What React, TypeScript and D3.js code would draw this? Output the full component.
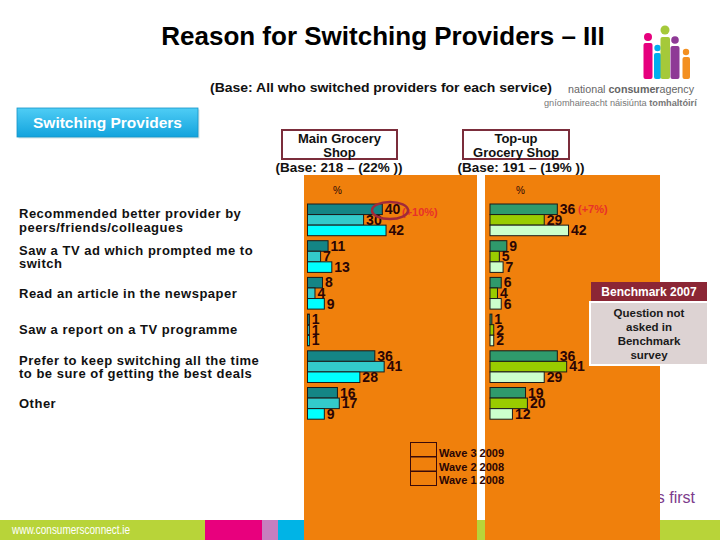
import React from "react";
import * as d3 from "d3";

const categories: string[][] = [
  ["Recommended better provider by", "peers/friends/colleagues"],
  ["Saw a TV ad which prompted me to", "switch"],
  ["Read an article in the newspaper"],
  ["Saw a report on a TV programme"],
  ["Prefer to keep switching all the time", "to be sure of getting the best deals"],
  ["Other"],
];
const waves = ["Wave 3 2009", "Wave 2 2008", "Wave 1 2008"];
const mainGrocery = [
  [40, 30, 42],
  [11, 7, 13],
  [8, 4, 9],
  [1, 1, 1],
  [36, 41, 28],
  [16, 17, 9],
];
const topUpGrocery = [
  [36, 29, 42],
  [9, 5, 7],
  [6, 4, 6],
  [1, 2, 2],
  [36, 41, 29],
  [19, 20, 12],
];
const mainColors = ["#148585", "#33caca", "#00ffff"];
const topUpColors = ["#2f9a6c", "#99cc00", "#ccffcc"];

const ORANGE = "#f0800c";
const FONT = "'Liberation Sans', Arial, sans-serif";
const LABEL = "#2a0505";

const catKeys = categories.map((c) => c.join(" "));
const yGroup = d3.scaleBand<string>().domain(catKeys).range([204, 419.2]).paddingInner(0.136);
const ySeries = d3.scaleBand<string>().domain(waves).range([0, yGroup.bandwidth()]);
const x = d3.scaleLinear().domain([0, 50]).range([0, 93.5]);

function Panel({ x0, data, colors }: { x0: number; data: number[][]; colors: string[] }) {
  return (
    <g>
      {data.map((vals, i) => (
        <g key={i} transform={`translate(0,${yGroup(catKeys[i])})`}>
          {vals.map((v, j) => (
            <rect
              key={j}
              x={x0}
              y={ySeries(waves[j])}
              width={x(v)}
              height={ySeries.bandwidth()}
              fill={colors[j]}
              stroke="#1a1a1a"
              strokeWidth={1}
            />
          ))}
          {vals.map((v, j) => (
            <text
              key={"t" + j}
              x={x0 + x(v) + 2.5}
              y={(ySeries(waves[j]) as number) + ySeries.bandwidth() - 0.5}
              fontSize={14}
              fontWeight="bold"
              fill={LABEL}
              fontFamily={FONT}
            >
              {v}
            </text>
          ))}
        </g>
      ))}
    </g>
  );
}

export default function App() {
  const logo = [
    { c: "#e6007e", hx: 648, hy: 37, r: 4, bx: 643.5, by: 43, w: 9, h: 36 },
    { c: "#00aeef", hx: 657.5, hy: 48, r: 3.2, bx: 654, by: 53, w: 7, h: 26 },
    { c: "#a5c93a", hx: 665, hy: 30, r: 4.5, bx: 660.5, by: 37, w: 9.5, h: 42 },
    { c: "#8e3a96", hx: 675, hy: 40, r: 3.8, bx: 670.5, by: 46, w: 9, h: 33 },
    { c: "#f39021", hx: 686, hy: 52, r: 3.2, bx: 682.5, by: 57, w: 7.5, h: 22 },
  ];
  return (
    <svg
      width={720}
      height={540}
      style={{ position: "absolute", left: 0, top: 0, background: "#fff" }}
      fontFamily={FONT}
    >
      <defs>
        <linearGradient id="btn" x1="0" y1="0" x2="0" y2="1">
          <stop offset="0" stopColor="#4fcdf5" />
          <stop offset="1" stopColor="#12a3dd" />
        </linearGradient>
      </defs>
      <rect width={720} height={540} fill="#fff" />

      {/* Title */}
      <text x={383} y={45} textAnchor="middle" fontSize={26} fontWeight="bold" fill="#000">
        Reason for Switching Providers – III
      </text>
      <text x={210} y={92} fontSize={13} fontWeight="bold" fill="#111" textLength={342} lengthAdjust="spacingAndGlyphs">
        (Base: All who switched providers for each service)
      </text>

      {/* Logo */}
      {logo.map((f, i) => (
        <g key={i}>
          <circle cx={f.hx} cy={f.hy} r={f.r} fill={f.c} />
          <rect x={f.bx} y={f.by} width={f.w} height={f.h} rx={2} fill={f.c} />
        </g>
      ))}
      <text x={568} y={93} fill="#666" textLength={126} lengthAdjust="spacingAndGlyphs" fontSize={11.5}>
        national <tspan fontWeight="bold">consumer</tspan>agency
      </text>
      <text x={544} y={106} fontSize={9.2} fill="#777">
        gníomhaireacht náisiúnta <tspan fontWeight="bold">tomhaltóirí</tspan>
      </text>

      {/* Footer */}
      <rect x={0} y={520} width={720} height={20} fill="#b8d439" />
      <rect x={205} y={520} width={57} height={20} fill="#e8007d" />
      <rect x={262} y={520} width={16} height={20} fill="#c77fbf" />
      <rect x={278} y={520} width={27} height={20} fill="#00b4e6" />
      <text x={12} y={534} fontSize={12} fill="#fff" textLength={118} lengthAdjust="spacingAndGlyphs">
        www.consumersconnect.ie
      </text>
      <text x={695} y={503} textAnchor="end" fontSize={16} fill="#7d3b8c">
        consumers first
      </text>

      {/* Button */}
      <rect x={17} y={108} width={181} height={29} fill="#9bb" opacity={0.4} transform="translate(1.5,1.5)" />
      <rect x={17} y={108} width={181} height={29} fill="url(#btn)" stroke="#1595c8" strokeWidth={0.8} />
      <text x={107.5} y={128} textAnchor="middle" fontSize={15.5} fontWeight="bold" fill="#fff">
        Switching Providers
      </text>

      {/* Category labels */}
      {categories.map((lines, i) => {
        const c = (yGroup(catKeys[i]) as number) + yGroup.bandwidth() / 2;
        const start = lines.length === 1 ? c + 4.5 : c - 2;
        return (
          <text key={i} x={19} fontSize={13} fontWeight="bold" fill="#111" letterSpacing={0.5}>
            {lines.map((l, k) => (
              <tspan key={k} x={19} y={start + k * 13.7}>
                {l}
              </tspan>
            ))}
          </text>
        );
      })}

      {/* Panels */}
      <rect x={304} y={175} width={173} height={365} fill={ORANGE} />
      <rect x={485} y={175} width={175} height={365} fill={ORANGE} />

      {/* Headers */}
      <rect x={282} y={130} width={115} height={29} fill="#fff" stroke="#7b2d3b" strokeWidth={2} />
      <text x={339.5} y={143} textAnchor="middle" fontSize={13} fontWeight="bold" fill="#111">
        Main Grocery
      </text>
      <text x={339.5} y={157} textAnchor="middle" fontSize={13} fontWeight="bold" fill="#111">
        Shop
      </text>
      <text x={339} y={172} textAnchor="middle" fontSize={13.5} fontWeight="bold" fill="#111">
        (Base: 218 – (22% ))
      </text>
      <rect x={463} y={130} width={106} height={29} fill="#fff" stroke="#7b2d3b" strokeWidth={2} />
      <text x={516} y={143} textAnchor="middle" fontSize={13} fontWeight="bold" fill="#111">
        Top-up
      </text>
      <text x={516} y={157} textAnchor="middle" fontSize={13} fontWeight="bold" fill="#111">
        Grocery Shop
      </text>
      <text x={521} y={172} textAnchor="middle" fontSize={13.5} fontWeight="bold" fill="#111">
        (Base: 191 – (19% ))
      </text>

      <text x={333} y={194} fontSize={10} fill={LABEL}>%</text>
      <text x={516} y={194} fontSize={10} fill={LABEL}>%</text>

      <Panel x0={307.5} data={mainGrocery} colors={mainColors} />
      <Panel x0={490} data={topUpGrocery} colors={topUpColors} />

      {/* Annotations */}
      <text x={402} y={216} fontSize={11} fontWeight="bold" fill="#e8302a">(+10%)</text>
      <ellipse cx={390} cy={210.5} rx={18} ry={8.5} fill="none" stroke="#a02a3a" strokeWidth={2.5} />
      <text x={578} y={213} fontSize={11} fontWeight="bold" fill="#e8302a">(+7%)</text>

      {/* Legend */}
      {waves.map((w, i) => (
        <g key={w}>
          <rect x={410.5} y={442.5 + i * 14.5} width={26} height={14} fill="none" stroke="#3a0a0a" strokeWidth={1} />
          <text x={439} y={457 + i * 13.7} fontSize={11} fontWeight="bold" fill="#2a0505">
            {w}
          </text>
        </g>
      ))}

      {/* Benchmark */}
      <rect x={591} y={282} width={116} height={19} fill="#8b2635" />
      <text x={649} y={296} textAnchor="middle" fontSize={12} fontWeight="bold" fill="#fff">
        Benchmark 2007
      </text>
      <rect x={590} y={302} width={118} height={63} fill="#ddd3d3" stroke="#fff" strokeWidth={2} />
      {["Question not", "asked in", "Benchmark", "survey"].map((t, i) => (
        <text key={t} x={649} y={317 + i * 14} textAnchor="middle" fontSize={11.5} fontWeight="bold" fill="#1a1a1a">
          {t}
        </text>
      ))}
    </svg>
  );
}
